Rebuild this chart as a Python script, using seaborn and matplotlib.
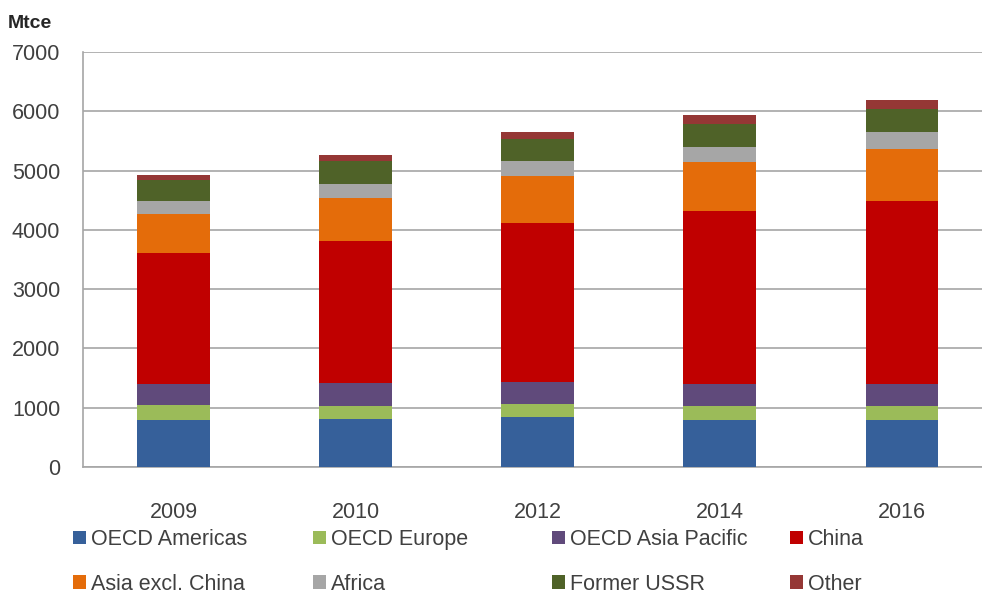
import matplotlib
matplotlib.use("Agg")
import matplotlib.pyplot as plt
import seaborn as sns
import pandas as pd
import numpy as np
from matplotlib.ticker import FixedLocator, NullFormatter

years = ["2009", "2010", "2012", "2014", "2016"]
series_names = ["OECD Americas", "OECD Europe", "OECD Asia Pacific", "China",
                "Asia excl. China", "Africa", "Former USSR", "Other"]
oecd_americas = [790, 805, 835, 790, 790]
oecd_europe = [250, 225, 225, 235, 235]
oecd_asia_pacific = [355, 390, 380, 370, 370]
china = [2210, 2395, 2675, 2915, 3095]
asia_excl_china = [660, 730, 790, 830, 880]
africa = [225, 225, 255, 255, 280]
former_ussr = [355, 385, 365, 395, 390]
other = [75, 105, 125, 155, 145]
yticks = [0, 1000, 2000, 3000, 4000, 5000, 6000, 7000]

colors = ["#36609A", "#9BBB59", "#604A7B", "#C00000",
          "#E46C0A", "#A6A6A6", "#4F6228", "#953735"]

values = [oecd_americas, oecd_europe, oecd_asia_pacific, china,
          asia_excl_china, africa, former_ussr, other]

sns.set_style("white")
plt.rcParams["font.family"] = ["Liberation Sans", "DejaVu Sans"]

df = pd.DataFrame({name: v for name, v in zip(series_names, values)}, index=years)
cum = df.cumsum(axis=1)

fig = plt.figure(figsize=(9.82, 5.96), dpi=100)
ax = fig.add_axes([82.5 / 982, 129 / 596, 910.5 / 982, 415 / 596])

# draw tallest (cumulative) first so lower segments overlay
for name, col in reversed(list(zip(series_names, colors))):
    d = pd.DataFrame({"year": years, "val": cum[name].values})
    sns.barplot(data=d, x="year", y="val", order=years, color=col,
                saturation=1, width=0.4, ax=ax, label=name, linewidth=0,
                zorder=3)

handles, labels = ax.get_legend_handles_labels()
if ax.get_legend() is not None:
    ax.get_legend().remove()
hmap = dict(zip(labels, handles))

ax.set_xlim(-0.5, 4.5)
ax.set_ylim(0, 7000)
ax.set_yticks(yticks)
ax.set_yticklabels([str(t) for t in yticks])
ax.set_xlabel("")
ax.set_ylabel("")

ax.grid(axis="y", color="#A6A6A6", linewidth=1.2, zorder=0)
ax.set_axisbelow(True)
for s in ["top", "right"]:
    ax.spines[s].set_visible(False)
for s in ["left", "bottom"]:
    ax.spines[s].set_color("#A6A6A6")
    ax.spines[s].set_linewidth(1.2)

ax.tick_params(axis="y", length=5, width=1.2, color="#A6A6A6", pad=11,
               labelsize=15.5, labelcolor="#404040")
ax.tick_params(axis="x", which="major", length=0, pad=25, labelsize=15.5,
               labelcolor="#404040")
ax.xaxis.set_minor_locator(FixedLocator([0.5, 1.5, 2.5, 3.5]))
ax.xaxis.set_minor_formatter(NullFormatter())
ax.tick_params(axis="x", which="minor", length=8, width=1.2, color="#A6A6A6",
               direction="out")

fig.text(8 / 982, 1 - 24 / 596, "Mtce", fontsize=14, fontweight="bold",
         color="#262626", va="center", ha="left")

col_x = [73, 313, 552, 790]
for j in range(4):
    names = [series_names[j], series_names[j + 4]]
    fig.legend([hmap[n] for n in names], names, loc="center left",
               bbox_to_anchor=(col_x[j] / 982, 1 - 562 / 596),
               frameon=False, borderpad=0, borderaxespad=0,
               handlelength=0.6, handleheight=0.6, handletextpad=0.25,
               labelspacing=1.1, fontsize=15.5, labelcolor="#404040")

fig.savefig("out.png", dpi=100)
